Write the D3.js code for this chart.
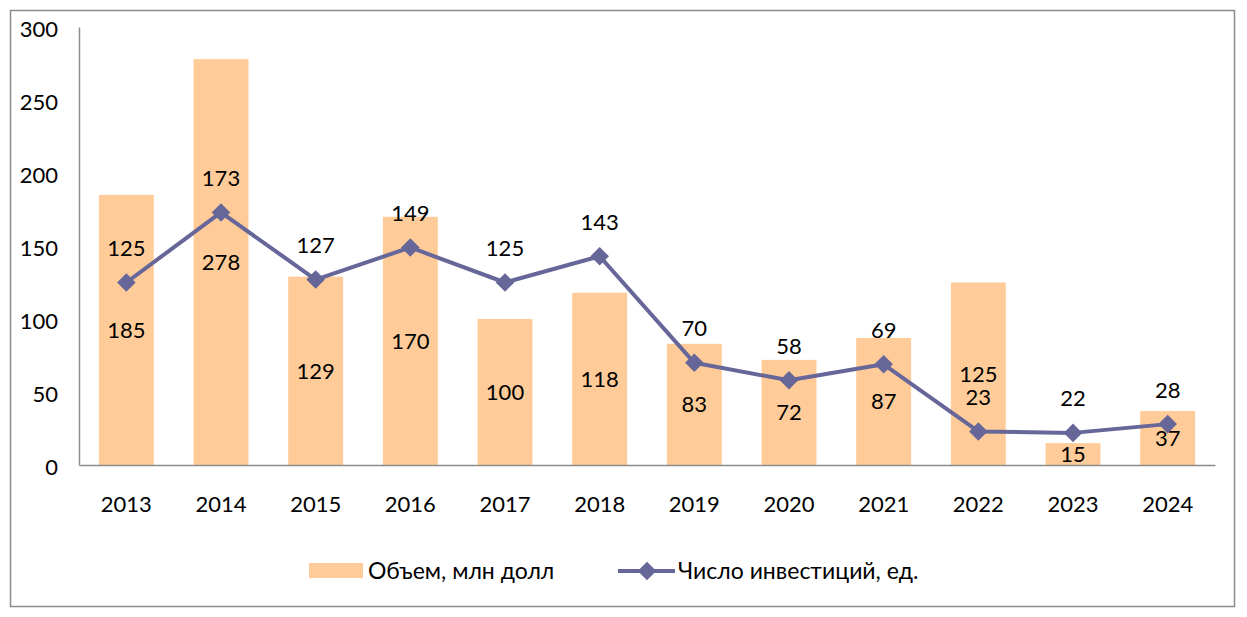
<!DOCTYPE html>
<html>
<head>
<meta charset="utf-8">
<script src="https://cdn.jsdelivr.net/npm/d3@7"></script>
<style>
  body { margin: 0; background: #fff; }
  svg text { font-family: Lato, "Open Sans", sans-serif; fill: #000; }
</style>
</head>
<body>
<svg id="chart" width="1247" height="617"></svg>
<script>
// data
const years = ["2013", "2014", "2015", "2016", "2017", "2018", "2019", "2020", "2021", "2022", "2023", "2024"];
const volume = [185, 278, 129, 170, 100, 118, 83, 72, 87, 125, 15, 37];
const deals = [125, 173, 127, 149, 125, 143, 70, 58, 69, 23, 22, 28];
const yTicks = [0, 50, 100, 150, 200, 250, 300];
const seriesNames = ["Объем, млн долл", "Число инвестиций, ед."];

const barColor = "#FFCC99", lineColor = "#666699";
const fontSize = 22, legendFont = 23;

const svg = d3.select("#chart");

// outer frame
svg.append("rect")
    .attr("x", 10.5).attr("y", 10.5)
    .attr("width", 1224).attr("height", 596)
    .attr("fill", "none").attr("stroke", "#8c8c8c").attr("stroke-width", 1.5);

const plotLeft = 79, plotRight = 1215, plotTop = 27, plotBottom = 465;

const x = d3.scaleBand().domain(years).range([plotLeft, plotRight]).paddingInner(0.42).paddingOuter(0.21);
const y = d3.scaleLinear().domain([0, 300]).range([plotBottom, plotTop]);

// bars
svg.selectAll(".bar")
    .data(volume)
    .enter()
    .append("rect")
    .attr("class", "bar")
    .attr("x", (d, i) => x(years[i]))
    .attr("y", d => y(d))
    .attr("width", x.bandwidth())
    .attr("height", d => y(0) - y(d))
    .attr("fill", barColor);

// axes
const yAxis = svg.append("g")
    .attr("transform", `translate(${plotLeft},0)`)
    .call(d3.axisLeft(y).tickValues(yTicks).tickSize(0).tickPadding(21));
yAxis.select(".domain").attr("stroke", "#8c8c8c").attr("stroke-width", 1.5);
yAxis.selectAll("text").attr("font-size", fontSize).attr("dy", "0.42em")
    .attr("font-family", "Lato, 'Open Sans', sans-serif");

const xAxis = svg.append("g")
    .attr("transform", `translate(0,${plotBottom})`)
    .call(d3.axisBottom(x).tickSize(0).tickPadding(31));
xAxis.select(".domain").attr("stroke", "#8c8c8c").attr("stroke-width", 1.5);
xAxis.selectAll("text").attr("font-size", fontSize)
    .attr("font-family", "Lato, 'Open Sans', sans-serif");

// bar labels in the middle of each bar
svg.selectAll(".bar-label")
    .data(volume)
    .enter()
    .append("text")
    .attr("class", "bar-label")
    .attr("x", (d, i) => x(years[i]) + x.bandwidth() / 2)
    .attr("y", d => (y(d) + y(0)) / 2)
    .attr("dy", "0.36em")
    .attr("text-anchor", "middle")
    .attr("font-size", fontSize)
    .text(d => d);

// line with diamonds
const cx = i => x(years[i]) + x.bandwidth() / 2;
const line = d3.line().x((d, i) => cx(i)).y(d => y(d));

svg.append("path")
    .datum(deals)
    .attr("d", line)
    .attr("fill", "none")
    .attr("stroke", lineColor)
    .attr("stroke-width", 4)
    .attr("stroke-linejoin", "round");

const diamond = d3.symbol().type(d3.symbolDiamond2).size(220);
svg.selectAll(".marker")
    .data(deals)
    .enter()
    .append("path")
    .attr("class", "marker")
    .attr("d", diamond)
    .attr("transform", (d, i) => `translate(${cx(i)},${y(d)})`)
    .attr("fill", lineColor);

svg.selectAll(".line-label")
    .data(deals)
    .enter()
    .append("text")
    .attr("class", "line-label")
    .attr("x", (d, i) => cx(i))
    .attr("y", d => y(d) - 34.5)
    .attr("dy", "0.36em")
    .attr("text-anchor", "middle")
    .attr("font-size", fontSize)
    .text(d => d);

// legend
const legend = svg.append("g");
legend.append("rect")
    .attr("x", 309).attr("y", 563).attr("width", 54).attr("height", 15)
    .attr("fill", barColor);
legend.append("text")
    .attr("x", 368).attr("y", 571).attr("dy", "0.36em")
    .attr("font-size", legendFont).text(seriesNames[0]);

legend.append("line")
    .attr("x1", 618).attr("x2", 675).attr("y1", 571).attr("y2", 571)
    .attr("stroke", lineColor).attr("stroke-width", 4);
legend.append("path")
    .attr("d", diamond)
    .attr("transform", "translate(647,571)")
    .attr("fill", lineColor);
legend.append("text")
    .attr("x", 678).attr("y", 571).attr("dy", "0.36em")
    .attr("font-size", legendFont).text(seriesNames[1]);
</script>
</body>
</html>
